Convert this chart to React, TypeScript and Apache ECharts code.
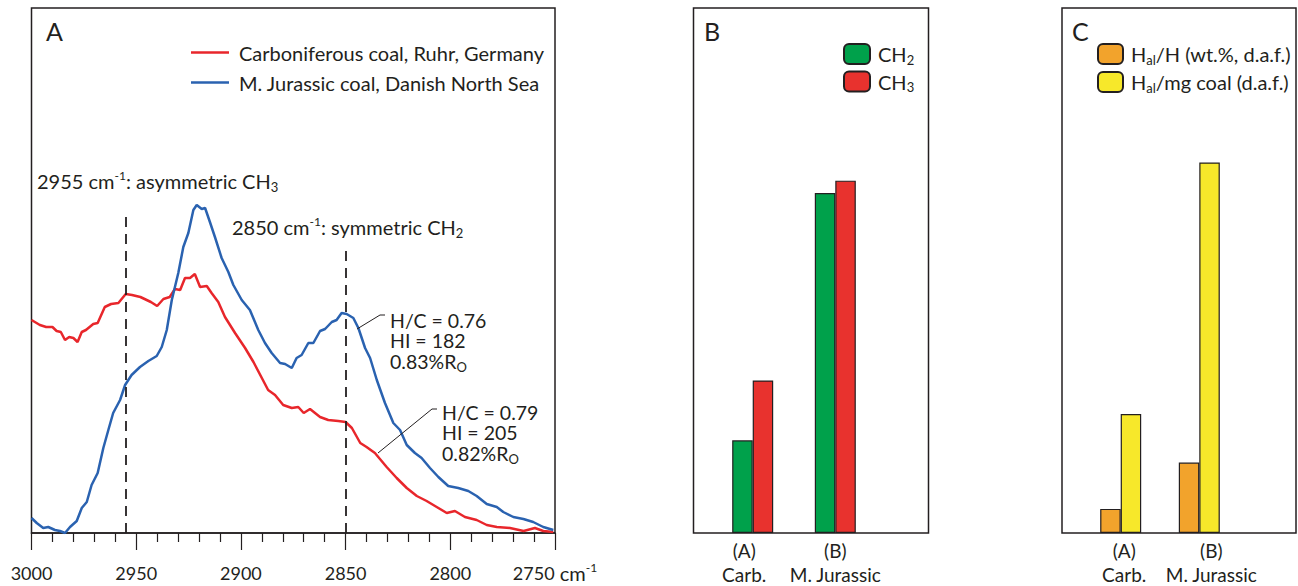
import React, { useEffect, useRef } from 'react';
import * as echarts from 'echarts';

// Panel A: IR spectra (wavenumber cm-1, relative absorbance)
const redWavenumber = [3000, 2996, 2993, 2990, 2988, 2986, 2984, 2982, 2980, 2978, 2976, 2974, 2970.5, 2968.4, 2965, 2962, 2958.5, 2955, 2952, 2948, 2943, 2940, 2937, 2934, 2931.5, 2929, 2926.7, 2924.3, 2922, 2919.5, 2916.3, 2914, 2910.8, 2907.6, 2902.8, 2898, 2894, 2890, 2887, 2883.7, 2879.8, 2875.7, 2872.6, 2870, 2867, 2862.2, 2858.3, 2853.5, 2850, 2847, 2843, 2840, 2836, 2830.4, 2825.6, 2820.8, 2816, 2811.3, 2806.5, 2801.7, 2797.8, 2793, 2787.4, 2782.6, 2777.8, 2771.5, 2765, 2759.6, 2755.6, 2750.8];
const redIntensity = [213, 208, 206, 206, 202, 201, 193, 196, 195, 191, 201, 203, 209, 210, 226, 229, 230, 239, 238, 236, 231, 227, 234, 236, 244, 243, 255, 255, 259, 246, 247, 240, 231, 216, 200, 185, 171, 155, 143, 138, 128, 125, 126, 120, 124, 116, 113, 112, 111, 105, 90, 86, 80, 66, 55, 45, 37, 32, 26, 20, 22, 16, 13, 8, 6, 5, 2, 5, 2, 1];
const blueWavenumber = [3000, 2997.5, 2994.4, 2992, 2988.8, 2986.4, 2984, 2981.6, 2978.4, 2976, 2973.6, 2971.3, 2968.4, 2965.7, 2963.3, 2961, 2957.7, 2955.3, 2952.2, 2948.2, 2944.2, 2940.2, 2937.8, 2935.4, 2933, 2929.9, 2927.5, 2925.1, 2922.7, 2921.1, 2918.7, 2917.1, 2914.8, 2912.4, 2909.2, 2906, 2903.6, 2899.6, 2895.7, 2891.7, 2888.5, 2885.3, 2881.3, 2878.9, 2875.7, 2873.4, 2871, 2867.8, 2865.4, 2862.2, 2859.8, 2856.6, 2854.3, 2851.9, 2849.5, 2846.3, 2843.9, 2840.7, 2838.3, 2835.1, 2831.2, 2827.2, 2824, 2820.8, 2816.9, 2813.7, 2809.7, 2805.7, 2801, 2796.2, 2791.4, 2787.4, 2782.6, 2777.8, 2774.7, 2769.9, 2765.1, 2760.4, 2755.6, 2750.8];
const blueIntensity = [15, 10, 5, 6, 3, 2, 0, 6, 12, 25, 31, 48, 60, 85, 103, 120, 133, 148, 158, 166, 172, 177, 186, 203, 233, 260, 286, 300, 323, 328, 324, 325, 311, 296, 275, 261, 248, 233, 223, 203, 190, 180, 170, 169, 165, 175, 178, 190, 190, 202, 204, 211, 213, 220, 219, 215, 205, 185, 175, 153, 130, 110, 103, 88, 80, 75, 65, 56, 47, 45, 42, 37, 29, 26, 21, 16, 14, 11, 6, 3];
const redName = 'Carboniferous coal, Ruhr, Germany';
const blueName = 'M. Jurassic coal, Danish North Sea';
const bandPositions = [2955, 2850];
const bandLineTops = [318, 288];
const blueNote = ['H/C = 0.76', 'HI = 182', '0.83%R'];
const redNote = ['H/C = 0.79', 'HI = 205', '0.82%R'];

// Panels B and C: bar values (relative units)
const sampleCodes = ['(A)', '(B)'];
const sampleNames = ['Carb.', 'M. Jurassic'];
const ch2Values = [26.3, 96.5];
const ch3Values = [43.3, 100];
const halHValues = [6.5, 19.0];
const halMgValues = [32.1, 100];

const FONT = 'Lato';
const INK = '#231f20';
const RED = '#e8262b';
const BLUE = '#2a62b0';

function zip(xs: number[], ys: number[]) {
  const n = Math.min(xs.length, ys.length);
  const out: number[][] = [];
  for (let i = 0; i < n; i++) out.push([xs[i], ys[i]]);
  return out;
}

export default function App() {
  const ref = useRef<HTMLDivElement>(null);
  useEffect(() => {
    if (!ref.current) return;
    const chart = echarts.init(ref.current, null, { renderer: 'svg' });
    const baseRich = {
      m: { fontSize: 20, lineHeight: 24, fontFamily: FONT, color: INK },
      d: { fontSize: 18, lineHeight: 24, fontFamily: FONT, color: INK },
      s: { fontSize: 13, lineHeight: 11, fontFamily: FONT, color: INK, verticalAlign: 'bottom' },
      u: { fontSize: 12, lineHeight: 11, fontFamily: FONT, color: INK, verticalAlign: 'top' },
    };
    const catLabel = (shifts: number[]) => {
      const rich: any = {};
      shifts.forEach((d, i) => {
        const pad = d < 0 ? [0, -2 * d, 0, 0] : [0, 0, 0, 2 * d];
        rich['t' + i] = { fontSize: 19, lineHeight: 24, fontFamily: FONT, color: INK, padding: pad };
      });
      return {
        margin: 5,
        interval: 0,
        formatter: (v: string, i: number) => `{t${i}|${v}}\n{t${i}|${sampleNames[i]}}`,
        rich,
      };
    };
    const noteTexts = (lines: string[], x: number, y0: number) =>
      lines.map((t, i) => ({
        type: 'text', x, y: y0 + i * 20.5, z: 100,
        style: {
          text: i === lines.length - 1 ? `{m|${t}}{s|O}` : `{m|${t}}`,
          rich: { ...baseRich, m: { ...baseRich.m, fontSize: 19.5 } },
          fill: INK, verticalAlign: 'middle',
        },
      }));
    const option: any = {
      animation: false,
      textStyle: { fontFamily: FONT, color: INK },
      grid: [
        { left: 31.5, top: 8, width: 523.5, height: 525, show: true, borderColor: INK, borderWidth: 1.5, backgroundColor: 'transparent' },
        { left: 711.4, top: 8, width: 165.2, height: 525 },
        { left: 1081.4, top: 8, width: 157.2, height: 525 },
      ],
      xAxis: [
        {
          gridIndex: 0, type: 'value', inverse: true, min: 2750, max: 3000, interval: 50,
          axisLine: { show: true, lineStyle: { color: INK, width: 1.5 } },
          axisTick: { show: true, length: 17, lineStyle: { color: INK, width: 1.2 } },
          minorTick: { show: true, splitNumber: 5, length: 9, lineStyle: { color: INK, width: 1.2 } },
          splitLine: { show: false },
          minorSplitLine: { show: false },
          axisLabel: {
            margin: 28, showMinLabel: true, showMaxLabel: true,
            formatter: (v: number) => (v === 2750 ? `{d|${v}}{m| cm}{u|-1}` : `{d|${v}}`),
            rich: baseRich,
          },
        },
        { gridIndex: 1, type: 'category', data: sampleCodes, axisLine: { show: false }, axisTick: { show: false }, axisLabel: catLabel([-8.5, 0]) },
        { gridIndex: 2, type: 'category', data: sampleCodes, axisLine: { show: false }, axisTick: { show: false }, axisLabel: catLabel([3.5, 12]) },
      ],
      yAxis: [
        { gridIndex: 0, type: 'value', min: 0, max: 525, show: false },
        { gridIndex: 1, type: 'value', min: 0, max: 149, show: false },
        { gridIndex: 2, type: 'value', min: 0, max: 141.7, show: false },
      ],
      legend: [
        {
          data: [redName, blueName], orient: 'vertical', left: 191, top: 42, padding: 0,
          icon: 'rect', itemWidth: 38, itemHeight: 2.5, itemGap: 9, selectedMode: false,
          textStyle: { fontSize: 20, lineHeight: 21, color: INK, fontFamily: FONT, padding: [0, 0, 0, 5] },
        },
        {
          data: ['CH2', 'CH3'], orient: 'vertical', left: 843, top: 43, padding: 0,
          itemWidth: 26, itemHeight: 20, itemGap: 4.5, selectedMode: false,
          formatter: (n: string) => `{m|CH}{s|${n.slice(2)}}`,
          textStyle: { rich: baseRich, padding: [0, 0, 0, 3] },
        },
        {
          data: ['Hal/H', 'Hal/mg'], orient: 'vertical', left: 1097, top: 43, padding: 0,
          itemWidth: 25, itemHeight: 20, itemGap: 5, selectedMode: false,
          formatter: (n: string) => (n === 'Hal/H' ? '{m|H}{s|al}{m|/H (wt.%, d.a.f.)}' : '{m|H}{s|al}{m|/mg coal (d.a.f.)}'),
          textStyle: { rich: baseRich, padding: [0, 0, 0, 3] },
        },
      ],
      series: [
        {
          type: 'line', name: redName, xAxisIndex: 0, yAxisIndex: 0, data: zip(redWavenumber, redIntensity),
          symbol: 'none', lineStyle: { color: RED, width: 2.5 }, itemStyle: { color: RED }, z: 3,
          markLine: {
            silent: true, symbol: ['none', 'none'], label: { show: false },
            lineStyle: { type: [10, 7], color: INK, width: 1.8 },
            data: bandPositions.map((b, i) => [{ coord: [b, 0] }, { coord: [b, bandLineTops[i]] }]),
          },
        },
        {
          type: 'line', name: blueName, xAxisIndex: 0, yAxisIndex: 0, data: zip(blueWavenumber, blueIntensity),
          symbol: 'none', lineStyle: { color: BLUE, width: 2.5 }, itemStyle: { color: BLUE }, z: 3,
        },
        { type: 'bar', name: 'CH2', xAxisIndex: 1, yAxisIndex: 1, data: ch2Values, barWidth: 20.5, barGap: '0%', itemStyle: { color: '#00a14b', borderColor: INK, borderWidth: 1.2 } },
        { type: 'bar', name: 'CH3', xAxisIndex: 1, yAxisIndex: 1, data: ch3Values, barWidth: 20.5, barGap: '0%', itemStyle: { color: '#e8322e', borderColor: INK, borderWidth: 1.2 } },
        { type: 'bar', name: 'Hal/H', xAxisIndex: 2, yAxisIndex: 2, data: halHValues, barWidth: 20.5, barGap: '0%', itemStyle: { color: '#f2a32c', borderColor: INK, borderWidth: 1.2 } },
        { type: 'bar', name: 'Hal/mg', xAxisIndex: 2, yAxisIndex: 2, data: halMgValues, barWidth: 20.5, barGap: '0%', itemStyle: { color: '#f7e82a', borderColor: INK, borderWidth: 1.2 } },
      ],
      graphic: [
        { type: 'text', x: 46, y: 31, z: 100, style: { text: 'A', fontSize: 25, fontFamily: FONT, fill: INK, verticalAlign: 'middle' } },
        { type: 'text', x: 704, y: 31, z: 100, style: { text: 'B', fontSize: 25, fontFamily: FONT, fill: INK, verticalAlign: 'middle' } },
        { type: 'text', x: 1072, y: 31, z: 100, style: { text: 'C', fontSize: 25, fontFamily: FONT, fill: INK, verticalAlign: 'middle' } },
        { type: 'rect', z: 100, shape: { x: 693.5, y: 8, width: 235, height: 525 }, style: { fill: 'none', stroke: INK, lineWidth: 1.5 } },
        { type: 'rect', z: 100, shape: { x: 1062, y: 8, width: 234, height: 525 }, style: { fill: 'none', stroke: INK, lineWidth: 1.5 } },
        { type: 'text', x: 37, y: 181, z: 100, style: { text: '{m|2955 cm}{u|-1}{m|: asymmetric CH}{s|3}', rich: baseRich, fill: INK, verticalAlign: 'middle' } },
        { type: 'text', x: 232, y: 227, z: 100, style: { text: '{m|2850 cm}{u|-1}{m|: symmetric CH}{s|2}', rich: baseRich, fill: INK, verticalAlign: 'middle' } },
        { type: 'polyline', z: 100, shape: { points: [[357, 329], [380, 315], [385, 315]] }, style: { stroke: INK, lineWidth: 1, fill: 'none' } },
        { type: 'polyline', z: 100, shape: { points: [[378, 453], [432, 409], [437, 409]] }, style: { stroke: INK, lineWidth: 1, fill: 'none' } },
        ...noteTexts(blueNote, 390, 320),
        ...noteTexts(redNote, 442, 412),
      ],
    };
    chart.setOption(option);
    return () => chart.dispose();
  }, []);
  return <div ref={ref} style={{ position: 'absolute', left: 0, top: 0, width: 1298, height: 586, background: '#fff' }} />;
}
